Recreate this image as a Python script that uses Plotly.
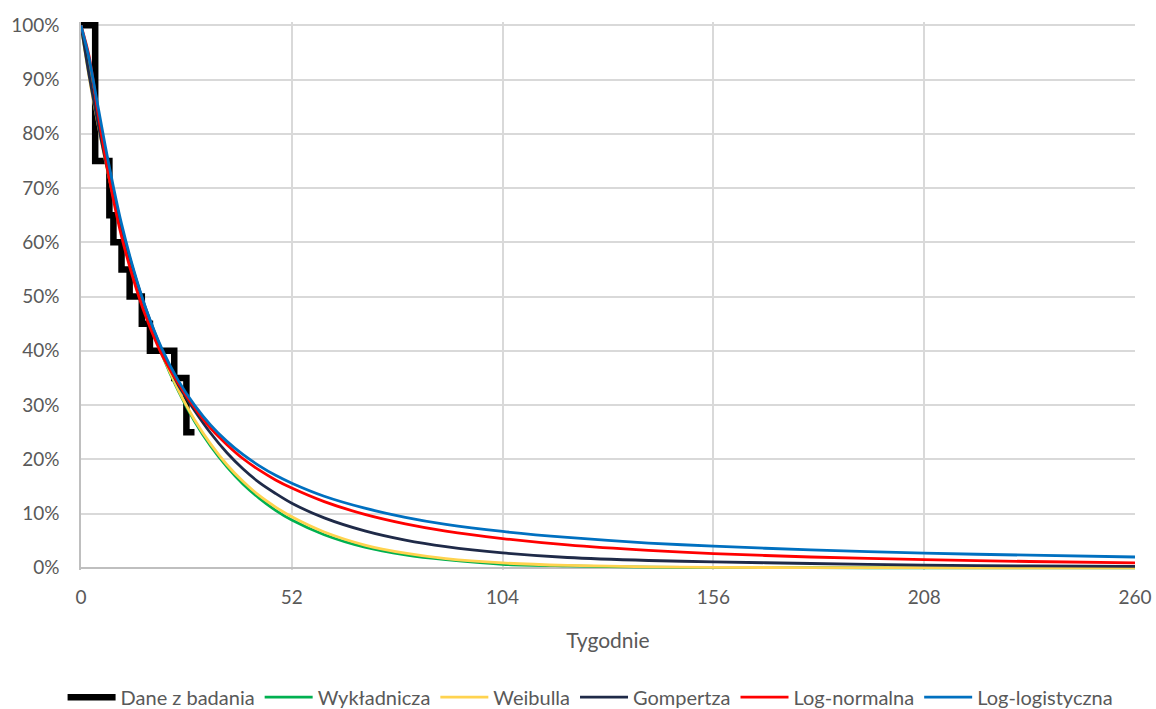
import plotly.graph_objects as go

# Kaplan-Meier estimate from the study (step function)
km_weeks = [0, 3.5, 7, 8, 10, 12, 15, 17, 23, 26, 28]
km_surv = [1.00, 0.75, 0.65, 0.60, 0.55, 0.50, 0.45, 0.40, 0.35, 0.25, 0.25]

# Fitted parametric survival curves
weeks = [0, 2, 4, 6, 8, 10, 13, 16, 20, 24, 28, 32, 36, 40, 44, 48, 52,
         60, 70, 80, 90, 104, 120, 140, 156, 180, 208, 234, 260]

wykladnicza = [1.000, 0.911, 0.830, 0.756, 0.688, 0.627, 0.545, 0.474, 0.393,
               0.326, 0.270, 0.224, 0.186, 0.154, 0.128, 0.106, 0.088,
               0.061, 0.038, 0.024, 0.015, 0.0065, 0.0035, 0.0014, 0.0007,
               0.0002, 0.0001, 0.0, 0.0]

weibulla = [1.000, 0.905, 0.824, 0.751, 0.684, 0.624, 0.544, 0.474, 0.394,
            0.328, 0.273, 0.228, 0.190, 0.159, 0.133, 0.112, 0.094,
            0.066, 0.042, 0.027, 0.017, 0.009, 0.0045, 0.0019, 0.001,
            0.0004, 0.0002, 0.0001, 0.0]

gompertza = [1.000, 0.908, 0.826, 0.752, 0.685, 0.625, 0.546, 0.477, 0.400,
             0.337, 0.290, 0.248, 0.212, 0.182, 0.157, 0.137, 0.119,
             0.092, 0.068, 0.051, 0.039, 0.0275, 0.019, 0.0135, 0.011,
             0.008, 0.005, 0.0035, 0.0025]

log_normalna = [1.000, 0.943, 0.847, 0.757, 0.678, 0.611, 0.530, 0.463, 0.392,
                0.340, 0.295, 0.257, 0.227, 0.201, 0.180, 0.162, 0.147,
                0.122, 0.0985, 0.081, 0.0676, 0.054, 0.0422, 0.0321, 0.0263,
                0.020, 0.015, 0.0117, 0.0093]

log_logistyczna = [1.000, 0.939, 0.858, 0.777, 0.702, 0.634, 0.549, 0.478, 0.403,
                   0.345, 0.300, 0.263, 0.233, 0.2085, 0.188, 0.1705, 0.156,
                   0.132, 0.110, 0.093, 0.080, 0.067, 0.056, 0.0457, 0.040,
                   0.033, 0.027, 0.0233, 0.020]

x_ticks = [0, 52, 104, 156, 208, 260]

FONT = "Lato, 'Open Sans', sans-serif"
GREY_TEXT = "#595959"
GRID = "#d9d9d9"

fig = go.Figure()

fig.add_trace(go.Scatter(
    x=km_weeks, y=km_surv, name="Dane z badania", mode="lines",
    line=dict(color="#000000", width=6.5, shape="hv"),
))

models = [
    ("Wykładnicza", wykladnicza, "#00b050"),
    ("Weibulla", weibulla, "#ffd34f"),
    ("Gompertza", gompertza, "#1f2a48"),
    ("Log-normalna", log_normalna, "#ff0000"),
    ("Log-logistyczna", log_logistyczna, "#0070c0"),
]
for name, vals, color in models:
    fig.add_trace(go.Scatter(
        x=weeks, y=vals, name=name, mode="lines",
        line=dict(color=color, width=2.8, shape="spline", smoothing=0.8),
    ))

fig.update_layout(
    width=1156, height=709,
    margin=dict(l=81, r=21, t=22, b=139, autoexpand=False),
    paper_bgcolor="white", plot_bgcolor="white",
    font=dict(family=FONT, size=18, color=GREY_TEXT),
    showlegend=True,
    legend=dict(
        orientation="h", x=0.483, xanchor="center", y=-0.232, yanchor="middle",
        font=dict(family=FONT, size=20, color=GREY_TEXT),
        itemwidth=48, tracegroupgap=0,
    ),
)

fig.update_xaxes(
    range=[0, 260], tickvals=x_ticks, ticktext=[str(v) for v in x_ticks],
    showgrid=True, gridcolor=GRID, gridwidth=1.5,
    showline=False, zeroline=False, ticks="", automargin=False,
    ticklabelstandoff=14,
    tickfont=dict(family=FONT, size=19, color=GREY_TEXT),
    title=dict(text="Tygodnie", font=dict(family=FONT, size=21, color=GREY_TEXT),
               standoff=26),
)

fig.update_yaxes(
    range=[-0.004, 1.006], dtick=0.1, tick0=0, tickformat=".0%",
    showgrid=True, gridcolor=GRID, gridwidth=1.5,
    zeroline=True, zerolinecolor="#bfbfbf", zerolinewidth=1.5,
    showline=True, linecolor="#bfbfbf", linewidth=1.5, ticks="", automargin=False,
    ticklabelstandoff=16,
    tickfont=dict(family=FONT, size=19, color=GREY_TEXT),
)

fig.write_html("out.html")
